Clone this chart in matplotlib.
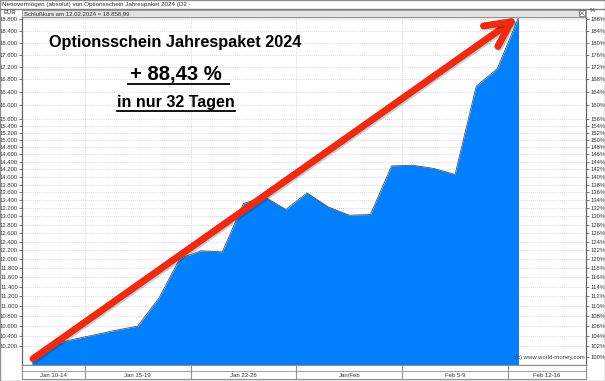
import numpy as np
import matplotlib
matplotlib.use('Agg')
import matplotlib.pyplot as plt
import matplotlib.patheffects as pe
from matplotlib.lines import Line2D
from matplotlib.patches import Rectangle
from matplotlib.ticker import NullLocator

plt.rcParams['font.family'] = ['Liberation Sans', 'DejaVu Sans']

# Nettovermögen je Handelstag (10.01.2024 - 12.02.2024)
days = ['10.01', '11.01', '12.01', '15.01', '16.01', '17.01', '18.01', '19.01',
        '22.01', '23.01', '24.01', '25.01', '26.01', '29.01', '30.01', '31.01',
        '01.02', '02.02', '05.02', '06.02', '07.02', '08.02', '09.02', '12.02']
values = [10008, 10238, 10333, 10421, 10509, 10588, 11157, 12023,
          12189, 12166, 13319, 13484, 13170, 13585, 13234, 13030,
          13047, 14289, 14308, 14220, 14061, 16585, 17143, 18859]
weeks = ['Jan 10-14', 'Jan 15-19', 'Jan 22-26', 'Jan/Feb', 'Feb 5-9', 'Feb 12-16']
week_days = [3, 5, 5, 5, 5, 1]
left_ticks = list(range(10200, 15601, 200)) + list(range(16000, 18801, 400))
right_ticks = list(range(100, 157, 2)) + list(range(160, 189, 4))

W, H = 605, 381
fig = plt.figure(figsize=(W / 100, H / 100), dpi=100)
fig.patch.set_facecolor('white')

def fx(px):
    return px / W

def fy(py):
    return 1 - py / H

grid_col = '#c8c8e8'
axis_col = '#606060'
y_lo, y_hi = 9845, 18880
x_lo, x_hi = -0.47, 26.19

ax = fig.add_axes([fx(22), fy(365), fx(586) - fx(22), fy(17) - fy(365)])
x = np.arange(len(values))
ax.set_yscale('log')
ax.set_xlim(x_lo, x_hi)
ax.set_ylim(y_lo, y_hi)
ax.set_axisbelow(True)

ax.fill_between(x, values, y_lo, color='#0080ff', lw=0, zorder=2)
ax.plot(x, values, color='#505050', lw=0.6, zorder=3)

ax.set_yticks(left_ticks)
ax.yaxis.set_minor_locator(NullLocator())
ax.set_yticklabels([f'{t:,}'.replace(',', '.') for t in left_ticks])
ax.tick_params(axis='y', labelsize=4.2, length=2, width=0.6, color=axis_col,
               labelcolor='#303030', pad=1)
ax.set_xticks([])
ax.grid(axis='y', ls=(0, (1, 1.5)), color=grid_col, lw=0.6)
bounds = [x_lo] + list(np.cumsum(week_days)[:-1] - 0.5) + [x_hi]
for b in bounds[1:-1]:
    ax.axvline(b, ls=(0, (1, 1.5)), color=grid_col, lw=0.6, zorder=0)
for s in ax.spines.values():
    s.set_color(axis_col)
    s.set_linewidth(0.8)

ax2 = ax.twinx()
ax2.set_yscale('log')
ax2.set_ylim(y_lo / 100, y_hi / 100)
ax2.set_yticks(right_ticks)
ax2.yaxis.set_minor_locator(NullLocator())
ax2.set_yticklabels([f'{t}%' for t in right_ticks])
ax2.tick_params(axis='y', labelsize=4.2, length=2, width=0.6, color=axis_col,
                labelcolor='#303030', pad=1)
for s in ax2.spines.values():
    s.set_color(axis_col)
    s.set_linewidth(0.8)

# red arrow
ax.annotate('', xy=(22.95, 18870), xytext=(0.05, 9960),
            arrowprops=dict(arrowstyle='->,head_length=1.0,head_width=0.5',
                            lw=5, color='#ee2a10', mutation_scale=18,
                            shrinkA=0, shrinkB=0,
                            path_effects=[pe.SimpleLineShadow(offset=(1.0, -1.0), shadow_color='k', alpha=0.2),
                                          pe.Normal()]),
            zorder=5)

ax.text(0.998, 0.015, '(c) www.world-money.com', transform=ax.transAxes,
        ha='right', va='bottom', fontsize=4.3, color='#404040')

# x-axis band with week labels
axb = fig.add_axes([fx(22), fy(379), fx(586) - fx(22), fy(365) - fy(379)])
axb.set_xlim(x_lo, x_hi)
axb.set_ylim(0, 1)
axb.set_xticks([])
axb.set_yticks([])
axb.axhline(0.55, color='#909090', lw=0.6)
for b in bounds[1:-1]:
    axb.axvline(b, color='#909090', lw=0.8)
for lab, a, b in zip(weeks, bounds[:-1], bounds[1:]):
    axb.text((a + b) / 2, 0.27, lab, ha='center', va='center', fontsize=4.3, color='#303030')
for s in axb.spines.values():
    s.set_color('#909090')
    s.set_linewidth(0.8)

# header
fig.text(fx(2), fy(4.5), 'Nettovermögen (absolut) von Optionsschein Jahrespaket 2024 (D2 -',
         ha='left', va='center', fontsize=4.5, color='#303030')
fig.add_artist(Line2D([0, 1], [fy(9), fy(9)], color='#808080', lw=1.0))
fig.add_artist(Rectangle((fx(22), fy(17)), fx(586) - fx(22), fy(10) - fy(17),
                         facecolor='#e2e2e2', edgecolor='#909090', lw=0.6))
fig.text(fx(24), fy(13.5), 'Schlußkurs am 12.02.2024 = 18.858,99',
         ha='left', va='center', fontsize=4.3, color='#303030')
fig.text(fx(4), fy(12.5), 'EUR', ha='left', va='center', fontsize=4.3, color='#303030')
fig.text(fx(590), fy(11), '%', ha='left', va='center', fontsize=4.3, color='#303030')
fig.add_artist(Rectangle((fx(579), fy(16)), fx(6), fy(10) - fy(16),
                         facecolor='white', edgecolor='#606060', lw=0.5))
fig.add_artist(Line2D([fx(579.5), fx(584.5)], [fy(10.5), fy(15.5)], color='#606060', lw=0.4))
fig.add_artist(Line2D([fx(579.5), fx(584.5)], [fy(15.5), fy(10.5)], color='#606060', lw=0.4))

# big annotation texts
fig.text(fx(175.5), fy(42.5), 'Optionsschein Jahrespaket 2024', ha='center', va='center',
         fontsize=11.7, weight='bold', color='black')
fig.text(fx(176), fy(74.5), '+ 88,43 %', ha='center', va='center',
         fontsize=14.6, weight='bold', color='black')
fig.add_artist(Line2D([fx(128), fx(229)], [fy(83.5), fy(83.5)], color='black', lw=1.3))
fig.text(fx(176), fy(102), 'in nur 32 Tagen', ha='center', va='center',
         fontsize=11.5, weight='bold', color='black')
fig.add_artist(Line2D([fx(116.5), fx(235)], [fy(110.8), fy(110.8)], color='black', lw=1.3))

fig.add_artist(Rectangle((0, 0), 1, 1, facecolor='none', edgecolor='#909090', lw=1.0))

fig.savefig('out.png', dpi=100)
